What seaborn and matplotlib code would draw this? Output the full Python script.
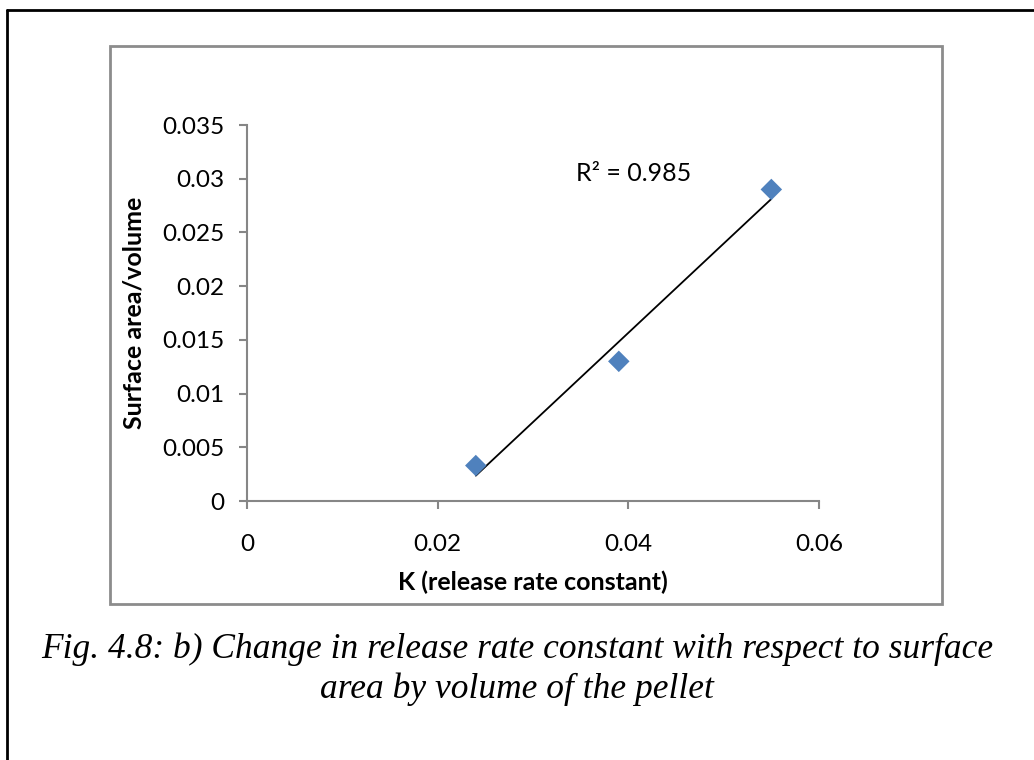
import numpy as np
import pandas as pd
import matplotlib
matplotlib.use("Agg")
import matplotlib.pyplot as plt
from matplotlib.patches import Rectangle
from matplotlib.lines import Line2D
import seaborn as sns

# 数据
k_values = [0.024, 0.039, 0.055]
sa_vol = [0.0033, 0.013, 0.029]
x_ticks = [0, 0.02, 0.04, 0.06]
y_ticks = [0, 0.005, 0.01, 0.015, 0.02, 0.025, 0.03, 0.035]
r2_text = "R² = 0.985"
caption = ("Fig. 4.8: b) Change in release rate constant with respect to surface\n"
           "area by volume of the pellet")

df = pd.DataFrame({"K": k_values, "SAV": sa_vol})

sns.set_style("white")
plt.rcParams['font.family'] = ['Lato', 'DejaVu Sans']
plt.rcParams['text.color'] = 'black'
plt.rcParams['axes.labelcolor'] = 'black'

fig = plt.figure(figsize=(10.34, 7.6), dpi=100)

# 外框 (只露出左边和上边)
fig.add_artist(Line2D([7 / 1034, 7 / 1034], [0, 1 - 10 / 760], color="black", lw=2,
                      transform=fig.transFigure))
fig.add_artist(Line2D([7 / 1034, 1], [1 - 10 / 760, 1 - 10 / 760], color="black", lw=2,
                      transform=fig.transFigure))
# 图表区灰框
fig.add_artist(Rectangle((110 / 1034, 1 - 604 / 760), 832 / 1034, 558 / 760,
                         fill=False, edgecolor="#8c8c8c", lw=2, transform=fig.transFigure))

ax = fig.add_axes([247 / 1034, 1 - 501 / 760, 572 / 1034, 376 / 760])
sns.regplot(data=df, x="K", y="SAV", ax=ax, ci=None, truncate=True, marker="D",
            scatter_kws={"s": 120, "color": "#4F81BD", "alpha": 1, "zorder": 3,
                         "edgecolors": "none"},
            line_kws={"color": "black", "lw": 1.3, "zorder": 2})

ax.set_xlim(0, 0.06)
ax.set_ylim(0, 0.035)
ax.set_xticks(x_ticks)
ax.set_yticks(y_ticks)
ax.set_xticklabels(["0", "0.02", "0.04", "0.06"])
ax.set_yticklabels(["0", "0.005", "0.01", "0.015", "0.02", "0.025", "0.03", "0.035"])
ax.tick_params(axis="both", direction="out", length=6, width=1.5, color="#868686",
               labelsize=17.5, labelcolor="black", left=True, bottom=True)
ax.tick_params(axis="x", pad=18)
ax.tick_params(axis="y", pad=10)
for s in ["top", "right"]:
    ax.spines[s].set_visible(False)
for s in ["left", "bottom"]:
    ax.spines[s].set_color("#868686")
    ax.spines[s].set_linewidth(1.5)

ax.set_xlabel("K (release rate constant)", fontsize=18, fontweight="bold", labelpad=11)
ax.set_ylabel("Surface area/volume", fontsize=18, fontweight="bold", labelpad=12)
ax.text(0.0345, 0.0305, r2_text, fontsize=18, ha="left", va="center", color="black")

fig.text(0.5, 1 - 669 / 760, caption, ha="center", va="center", fontsize=25.5,
         family=["Liberation Serif", "DejaVu Serif"], style="italic", linespacing=1.25,
         color="black")

fig.savefig("out.png", dpi=100)
